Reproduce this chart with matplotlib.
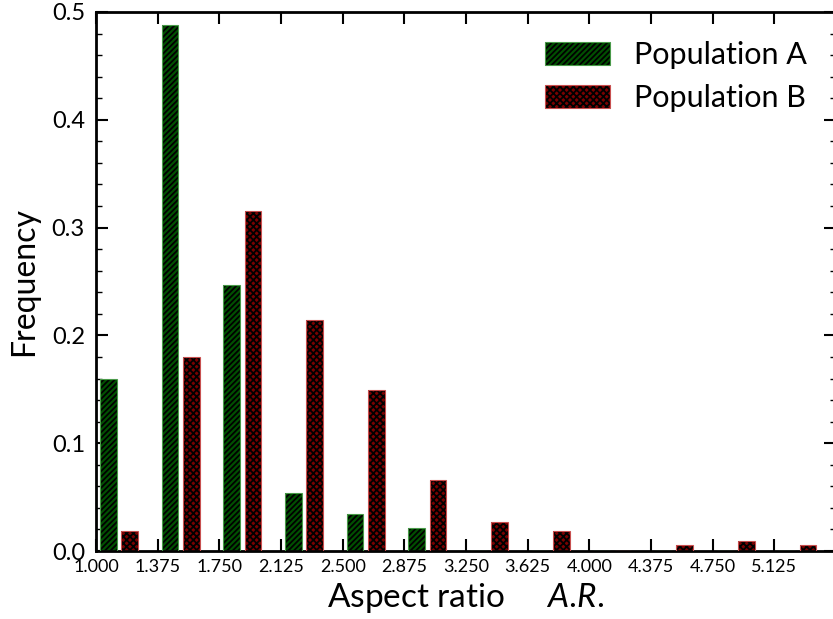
import numpy as np
import matplotlib
matplotlib.use("Agg")
import matplotlib.pyplot as plt
from matplotlib.ticker import MultipleLocator, FixedLocator
from matplotlib.colors import to_rgba

# Histogram bin edges (aspect ratio) and normalised frequencies
bin_edges = [1.000, 1.375, 1.750, 2.125, 2.500, 2.875, 3.250,
             3.625, 4.000, 4.375, 4.750, 5.125, 5.500]
freq_a = [0.160, 0.488, 0.247, 0.054, 0.034, 0.021, 0.0, 0.0, 0.0, 0.0, 0.0, 0.0]
freq_b = [0.0186, 0.180, 0.315, 0.214, 0.149, 0.066, 0.027, 0.0188, 0.0, 0.0053, 0.0096, 0.0053]
tick_labels = ["1.000", "1.375", "1.750", "2.125", "2.500", "2.875", "3.250",
               "3.625", "4.000", "4.375", "4.750", "5.125"]
labels = ["Population A", "Population B"]

plt.rcParams['font.family'] = ['Lato', 'DejaVu Sans']
plt.rcParams['mathtext.fontset'] = 'custom'
plt.rcParams['mathtext.it'] = 'Lato:italic'
plt.rcParams['mathtext.rm'] = 'Lato'
plt.rcParams['hatch.linewidth'] = 1.3
plt.rcParams['hatch.color'] = 'black'

fig = plt.figure(figsize=(8.33, 6.19), dpi=100)
ax = fig.add_axes([96 / 833, 68 / 619, 740 / 833, 539 / 619])

left = np.array(bin_edges[:-1])
bw = 0.1
off_a, off_b = 0.025, 0.155
edge_a, edge_b = '#4a9a4a', '#c85050'

ax.bar(left + off_a, freq_a, width=bw, align='edge', facecolor='#005000',
       hatch='//////', linewidth=0, label=labels[0], zorder=2)
ax.bar(left + off_a, freq_a, width=bw, align='edge', fill=False,
       edgecolor=edge_a, linewidth=0.8, zorder=3)
ax.bar(left + off_b, freq_b, width=bw, align='edge', facecolor='#7a0000',
       hatch='xxxxx', linewidth=0, label=labels[1], zorder=2)
ax.bar(left + off_b, freq_b, width=bw, align='edge', fill=False,
       edgecolor=edge_b, linewidth=0.8, zorder=3)

ax.set_xlim(bin_edges[0], bin_edges[-1])
ax.set_ylim(0, 0.5)

ax.xaxis.set_major_locator(FixedLocator(bin_edges[:-1]))
ax.set_xticklabels(tick_labels, fontsize=13)
ax.yaxis.set_minor_locator(MultipleLocator(0.02))
ax.set_yticks([0.0, 0.1, 0.2, 0.3, 0.4, 0.5])
ax.set_yticklabels(["0.0", "0.1", "0.2", "0.3", "0.4", "0.5"], fontsize=17)

ax.tick_params(which='both', direction='in', top=True, right=True)
ax.tick_params(which='major', length=8.5, width=1.5)
ax.tick_params(which='minor', length=4.5, width=1.0)
ax.tick_params(axis='x', pad=6)
ax.tick_params(axis='y', pad=8)

for sp in ax.spines.values():
    sp.set_linewidth(2.0)

ax.set_xlabel(r"Aspect ratio     $A.\!R.$", fontsize=24, labelpad=4)
ax.set_ylabel("Frequency", fontsize=23, labelpad=9)

leg = ax.legend(loc='upper right', fontsize=22, frameon=False,
                handlelength=2.1, handleheight=0.75, handletextpad=0.8,
                labelspacing=0.5, borderaxespad=0.55)
for handle, ec in zip(leg.legend_handles, (edge_a, edge_b)):
    handle.set_edgecolor(ec)
    handle.set_linewidth(0.8)
    handle._hatch_color = to_rgba('black')

fig.savefig("out.png", dpi=100)
